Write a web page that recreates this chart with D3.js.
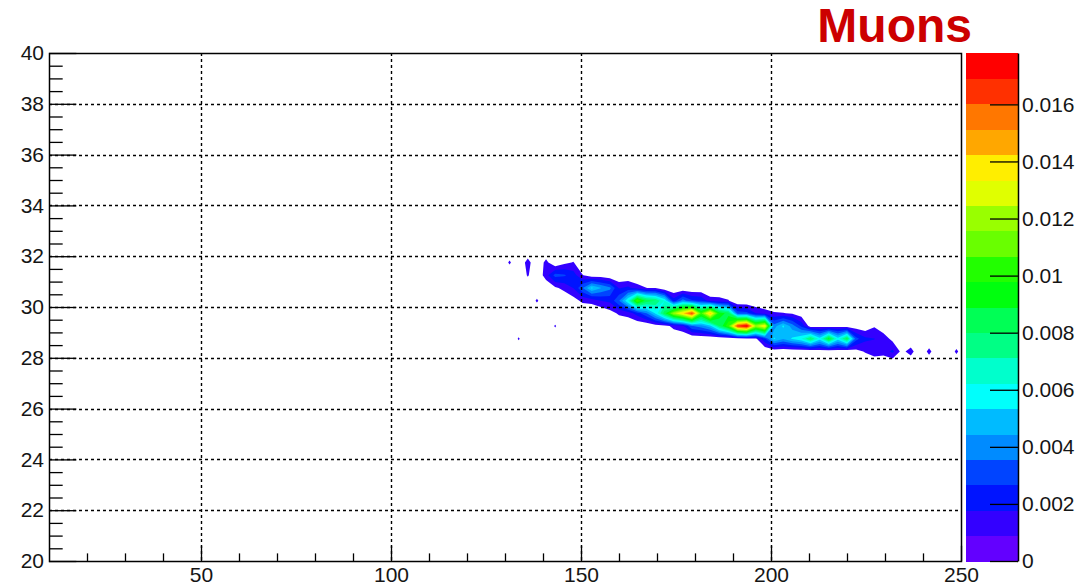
<!DOCTYPE html>
<html>
<head>
<meta charset="utf-8">
<script src="https://cdn.jsdelivr.net/npm/d3@7"></script>
<style>
  body { margin: 0; background: #fff; }
  svg { display: block; }
  text { font-family: "Liberation Sans", Arial, Helvetica, sans-serif; }
</style>
</head>
<body>
<svg id="chart" width="1085" height="588"></svg>
<script>
// ---- Histogram binning: 2.4-wide bins along x, 0.5-wide bins along y ----
const xFirstCenter = 131.2;
const xBinWidth = 2.4;
const yCenters = [31.75, 31.25, 30.75, 30.25, 29.75, 29.25, 28.75, 28.25];
const yBinWidth = 0.5;

// ---- Bin contents (units of 1e-4), one array per y row, bins from x = 131.2 ----
const row3175 = [10.5,0,13,0,12,0,6.5,9.5,0,0, 0,0,0,0,0,0,0,0,0,0, 0,0,0,0,0,0,0,0,0,0, 0,0,0,0,0,0,0,0,0,0, 0,0,0,0,0,0,0,0,0,0];
const row3125 = [0,0,10,0,14,30,28,22,9.5,3, 3,0,0,0,0,0,0,0,0,0, 0,0,0,0,0,0,0,0,0,0, 0,0,0,0,0,0,0,0,0,0, 0,0,0,0,0,0,0,0,0,0];
const row3075 = [0,0,0,0,0,7,12,18,35,55, 45,38,17,20,13,9,8,0,0,0, 0,0,0,0,0,0,0,0,0,0, 0,0,0,0,0,0,0,0,0,0, 0,0,0,0,0,0,0,0,0,0];
const row3025 = [0,0,0,10.5,0,0,0,5,11,12, 18,20,35,62,108,85,80,62,22,40, 28,26,13,12,9.5,0,0,0,0,0, 0,0,0,0,0,0,0,0,0,0, 0,0,0,0,0,0,0,0,0,0];
const row2975 = [0,0,0,0,0,0,0,0,0,0, 0,5,10.5,13,22,35,55,85,120,140, 165,105,145,95,85,32,30,18,13,10, 9.3,8,3,0,0,0,0,0,0,0, 0,0,0,0,0,0,0,0,0,0];
const row2925 = [0,0,0,0,0,10,0,0,0,0, 0,0,0,0,0,0,4,5,12,16, 35,40,50,80,105,165,178,120,138,40, 55,40,25,3.5,5,3,5,3.5,3,2, 8,2,0,0,0,0,0,0,0,0];
const row2875 = [0,10,0,0,0,0,0,0,0,0, 0,0,0,0,0,0,0,0,0,0, 0,0,0,0,0,4,5,7,25,55, 45,55,62,82,58,92,58,85,30,20, 18,14,6,0,0,0,0,0,0,0];
const row2825 = [0,0,0,0,0,0,0,0,0,0, 0,0,0,0,0,0,0,0,0,0, 0,0,0,0,0,0,0,0,0,0, 0,0,0,0,3,0,3,0,5,10, 15,13,20,6,13,0,12,0,0,11];
const rows = [row3175, row3125, row3075, row3025, row2975, row2925, row2875, row2825];
const unit = 1e-4;

// ---- Axes ----
const xDomain = [10, 250];
const yDomain = [20, 40];
const xMajorTicks = [50, 100, 150, 200, 250];
const xMinorTicks = [20, 30, 40, 60, 70, 80, 90, 110, 120, 130, 140, 160, 170, 180, 190, 210, 220, 230, 240];
const yMajorTicks = [20, 22, 24, 26, 28, 30, 32, 34, 36, 38, 40];
const yMinorTicks = d3.range(20.5, 40, 0.5).filter(v => v % 2 !== 0);
const colorTicks = [0, 0.002, 0.004, 0.006, 0.008, 0.01, 0.012, 0.014, 0.016];
const nLevels = 20;
const titleText = "Muons";

// ---- Layout ----
const plot = { left: 49, right: 961, top: 53, bottom: 561 };
const bar = { left: 966, right: 1018 };
const fontSize = 21;
const inkColor = "#151515";

const svg = d3.select("#chart");
const x = d3.scaleLinear().domain(xDomain).range([plot.left, plot.right]);
const y = d3.scaleLinear().domain(yDomain).range([plot.bottom, plot.top]);

// Padded grid (one empty bin around the filled area)
const nCols = rows[0].length + 2;
const nRows = rows.length + 2;
const grid = new Array(nCols * nRows).fill(0);
rows.forEach((r, j) => r.forEach((v, i) => { grid[(j + 1) * nCols + (i + 1)] = v * unit; }));

const zMax = d3.max(grid);
const levels = d3.range(nLevels).map(k => k * zMax / nLevels);

// Rainbow palette of 50 hues (violet -> red), sampled per contour level
function levelColor(k) {
  const idx = Math.floor((k + 0.99) * 50 / nLevels);
  const hue = 280 - (idx + 1) * 280 / 50;
  return d3.hsl(hue, 1, 0.5).formatHex();
}

// ---- Filled contours ----
svg.append("defs").append("clipPath").attr("id", "plotClip")
  .append("rect")
  .attr("x", plot.left).attr("y", plot.top)
  .attr("width", plot.right - plot.left).attr("height", plot.bottom - plot.top);

const contours = d3.contours().size([nCols, nRows]).thresholds(levels.slice(1))(grid);

const toScreen = d3.geoTransform({
  point(gx, gy) {
    const c = gx - 0.5 - 1;
    const r = gy - 0.5 - 1;
    this.stream.point(x(xFirstCenter + c * xBinWidth), y(yCenters[0] - r * yBinWidth));
  }
});
const path = d3.geoPath(toScreen);

svg.append("g").attr("clip-path", "url(#plotClip)")
  .selectAll("path").data(contours).join("path")
  .attr("d", path)
  .attr("fill", (d, i) => levelColor(i + 1))
  .attr("stroke", "none");

// ---- Dotted grid ----
const gridG = svg.append("g")
  .attr("stroke", "#000").attr("stroke-width", 1.4)
  .attr("stroke-dasharray", "3,3");
gridG.selectAll("line.gx").data(xMajorTicks.filter(v => v < xDomain[1])).join("line")
  .attr("x1", d => Math.round(x(d)) + 0.5).attr("x2", d => Math.round(x(d)) + 0.5)
  .attr("y1", plot.top).attr("y2", plot.bottom);
gridG.selectAll("line.gy").data(yMajorTicks.filter(v => v > yDomain[0] && v < yDomain[1])).join("line")
  .attr("y1", d => Math.round(y(d)) + 0.5).attr("y2", d => Math.round(y(d)) + 0.5)
  .attr("x1", plot.left).attr("x2", plot.right);

// ---- Axes (ticks pointing inward) ----
const majorLenX = 0.03 * (plot.bottom - plot.top);
const majorLenY = 0.03 * (plot.right - plot.left);

function styleAxis(g) {
  g.select(".domain").remove();
  g.selectAll(".tick line").attr("stroke", "#000").attr("stroke-width", 1.3);
  g.selectAll("text").attr("fill", inkColor).attr("font-size", fontSize)
    .attr("font-family", '"Liberation Sans", Arial, sans-serif');
}

svg.append("g").attr("transform", `translate(0,${plot.bottom})`)
  .call(d3.axisBottom(x).tickValues(xMinorTicks).tickSize(-majorLenX / 2).tickFormat(""))
  .call(styleAxis);
svg.append("g").attr("transform", `translate(0,${plot.bottom})`)
  .call(d3.axisBottom(x).tickValues(xMajorTicks).tickSize(-majorLenX).tickPadding(6).tickFormat(d3.format("d")))
  .call(styleAxis);

svg.append("g").attr("transform", `translate(${plot.left},0)`)
  .call(d3.axisLeft(y).tickValues(yMinorTicks).tickSize(-majorLenY / 2).tickFormat(""))
  .call(styleAxis);
svg.append("g").attr("transform", `translate(${plot.left},0)`)
  .call(d3.axisLeft(y).tickValues(yMajorTicks).tickSize(-majorLenY).tickPadding(5).tickFormat(d3.format("d")))
  .call(styleAxis);

// Frame
svg.append("rect")
  .attr("x", plot.left + 0.5).attr("y", plot.top + 0.5)
  .attr("width", plot.right - plot.left).attr("height", plot.bottom - plot.top)
  .attr("fill", "none").attr("stroke", "#000").attr("stroke-width", 1.5);

// ---- Colour bar ----
const z = d3.scaleLinear().domain([0, zMax]).range([plot.bottom, plot.top]);
svg.append("g").selectAll("rect").data(levels).join("rect")
  .attr("x", bar.left)
  .attr("width", bar.right - bar.left)
  .attr("y", d => z(d + zMax / nLevels))
  .attr("height", d => z(d) - z(d + zMax / nLevels) + 0.5)
  .attr("fill", (d, k) => levelColor(k))
  .attr("shape-rendering", "crispEdges");

const zAxis = svg.append("g").attr("transform", `translate(${bar.right},0)`)
  .call(d3.axisRight(z).tickValues(colorTicks).tickSize(-28).tickSizeOuter(0).tickPadding(4).tickFormat(d3.format("~g")));
zAxis.select(".domain").attr("stroke", "#000").attr("stroke-width", 1.5);
zAxis.selectAll(".tick line").attr("stroke", "#000").attr("stroke-width", 1.3);
zAxis.selectAll("text").attr("fill", inkColor).attr("font-size", fontSize)
  .attr("font-family", '"Liberation Sans", Arial, sans-serif');

// ---- Title ----
svg.append("text")
  .attr("x", 972).attr("y", 42)
  .attr("text-anchor", "end")
  .attr("font-size", 48).attr("font-weight", "bold")
  .attr("fill", "#cc0000")
  .text(titleText);
</script>
</body>
</html>
